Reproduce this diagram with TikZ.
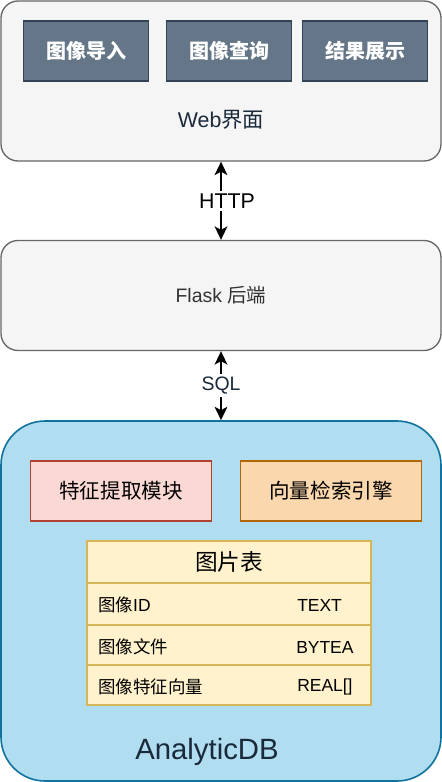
\documentclass[tikz,border=0pt]{standalone}
\usepackage{fontspec}
\setmainfont{Liberation Sans}
\newfontfamily\cjkf{Noto Sans CJK SC}
\newcommand{\zhs}[1]{{\cjkf #1}}
\usetikzlibrary{arrows.meta}
\definecolor{webfill}{HTML}{F5F5F5}
\definecolor{webline}{HTML}{666666}
\definecolor{btnfill}{HTML}{647687}
\definecolor{btnline}{HTML}{314354}
\definecolor{dbfill}{HTML}{B1DDF0}
\definecolor{dbline}{HTML}{10739E}
\definecolor{redfill}{HTML}{FAD9D5}
\definecolor{redline}{HTML}{AE4132}
\definecolor{orfill}{HTML}{FAD7AC}
\definecolor{orline}{HTML}{B46504}
\definecolor{tabfill}{HTML}{FFF2CC}
\definecolor{tabline}{HTML}{D6B656}
\definecolor{navy}{HTML}{1A2A3A}
\definecolor{greytext}{HTML}{333333}
\begin{document}
\begin{tikzpicture}[x=0.75pt,y=-0.75pt,
  panel/.style={draw=webline, fill=webfill, line width=1pt, rounded corners=12.75pt,
    minimum width=330pt, inner sep=0pt},
  btn/.style={draw=btnline, fill=btnfill, line width=1.2pt, minimum width=93.75pt,
    minimum height=45pt, text=white, font=\cjkf\bfseries\fontsize{15}{18}\selectfont, inner sep=0pt},
  modbox/.style={line width=1.2pt, minimum width=135.5pt, minimum height=45pt,
    font=\cjkf\fontsize{15.4}{18}\selectfont, inner sep=0pt},
  tabrow/.style={draw=tabline, fill=tabfill, line width=1.2pt, minimum width=213pt, inner sep=0pt},
  cell/.style={anchor=west, inner sep=0pt, font=\fontsize{13.1}{16}\selectfont},
  conn/.style={line width=1.6pt,
    {Stealth[length=10pt,width=9.5pt,inset=2.5pt]}-{Stealth[length=10pt,width=9.5pt,inset=2.5pt]}},
  edgelabel/.style={fill=white, inner sep=2pt}
]
\useasboundingbox (0,0) rectangle (442,782);

% Web layer
\node[panel, minimum height=120pt] (web) at (221,81) {};
\node[btn] (b1) at (86,51) {图像导入};
\node[btn] (b2) at (229,51) {图像查询};
\node[btn] (b3) at (365,51) {结果展示};
\node[text=navy, inner sep=0pt, font=\fontsize{16}{19}\selectfont] (weblabel) at (221,120) {Web\zhs{界面}};

% Flask layer
\node[panel, minimum height=82.5pt, text=greytext, font=\fontsize{14.6}{18}\selectfont] (flask) at (221,295.5) {Flask \zhs{后端}};

% DB layer
\node[draw=dbline, fill=dbfill, line width=1.2pt, rounded corners=33pt,
  minimum width=330pt, minimum height=270pt, inner sep=0pt] (db) at (221,601) {};
\node[modbox, draw=redline, fill=redfill] (feat) at (121,491) {特征提取模块};
\node[modbox, draw=orline, fill=orfill] (vec) at (331,491) {向量检索引擎};

% table
\node[tabrow, minimum height=31.5pt, font=\cjkf\fontsize{17}{20}\selectfont] (thead) at (229,562) {图片表};
\node[tabrow, minimum height=31.5pt] (row1) at (229,604) {};
\node[tabrow, minimum height=30pt] (row2) at (229,645) {};
\node[tabrow, minimum height=30pt] (row3) at (229,685) {};
\node[cell] (r1l) at (98,605) {\zhs{图像}ID};
\node[cell] (r1r) at (297,605) {TEXT};
\node[cell] (r2l) at (98,647) {\zhs{图像文件}};
\node[cell] (r2r) at (296,647) {BYTEA};
\node[cell] (r3l) at (98,687) {\zhs{图像特征向量}};
\node[cell] (r3r) at (297,687) {REAL[]};

\node[text=navy, inner sep=0pt, font=\fontsize{22}{26}\selectfont] (dblabel) at (207,752) {AnalyticDB};

% connectors
\draw[conn] (web.south) -- (flask.north)
  node[midway, edgelabel, xshift=4.5pt, font=\fontsize{16}{19}\selectfont] (http) {HTTP};
\draw[conn] (flask.south) -- (db.north)
  node[midway, edgelabel, text=navy, font=\fontsize{14.6}{18}\selectfont] (sql) {SQL};
\end{tikzpicture}
\end{document}
